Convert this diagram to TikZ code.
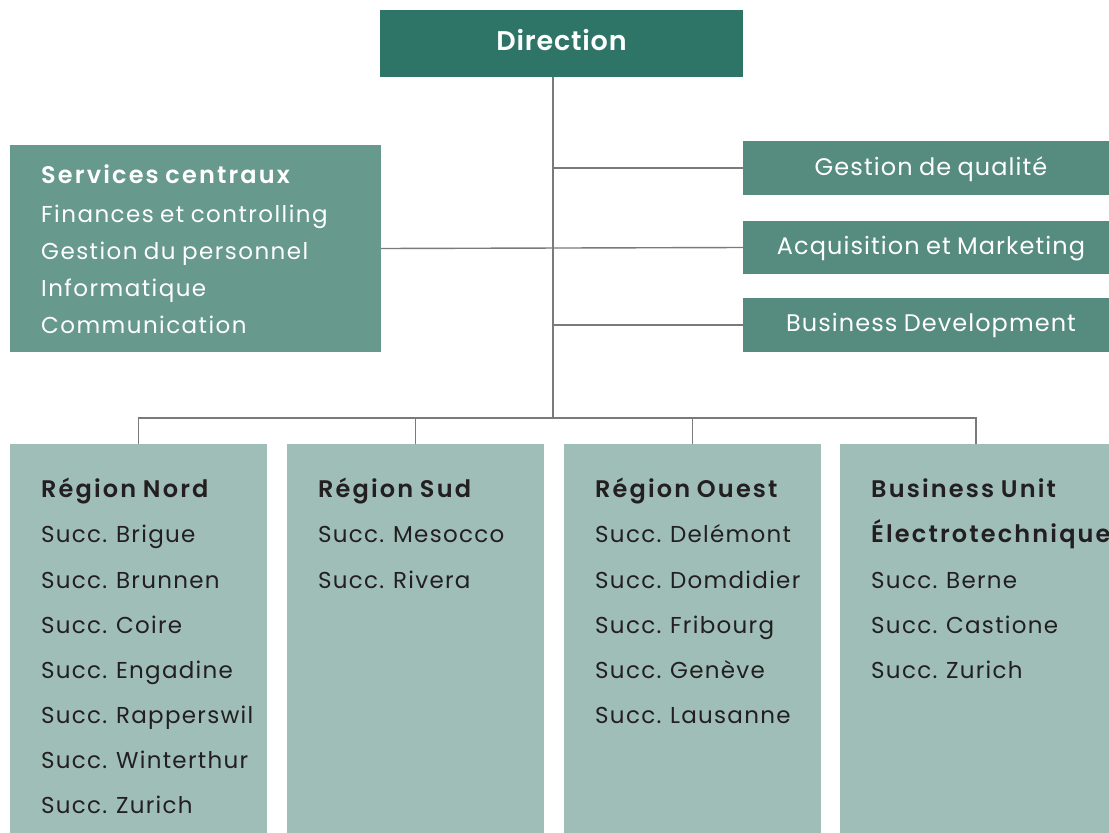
\documentclass[tikz,border=0pt]{standalone}
\usepackage{fontspec}
\setmainfont{Poppins}[LetterSpace=5.6,WordSpace=0.85,BoldFont={Poppins SemiBold},BoldFeatures={LetterSpace=9}]
\newfontfamily\ctrfont{Poppins}[LetterSpace=4.5,WordSpace=0.85]
\newfontfamily\svcfont{Poppins}[LetterSpace=6.3,WordSpace=0.85]
\newfontfamily\dirfont{Poppins SemiBold}[LetterSpace=3]
\definecolor{cdir}{HTML}{2E7568}
\definecolor{csvc}{HTML}{67998C}
\definecolor{cright}{HTML}{568B7F}
\definecolor{cbot}{HTML}{9FBEB7}
\definecolor{cline}{HTML}{7A7A7A}
\definecolor{ctext}{HTML}{231F20}
\begin{document}
\begin{tikzpicture}[x=1pt,y=-1pt,
  box/.style={draw=none,inner sep=0pt,outer sep=0pt},
  conn/.style={draw=cline,line width=1.4pt},
  wtxt/.style={inner sep=0pt,anchor=base west,text=white,font=\svcfont\fontsize{23}{23}\selectfont},
  wbtxt/.style={inner sep=0pt,anchor=base west,text=white,font=\fontsize{24}{24}\selectfont\bfseries},
  dtxt/.style={inner sep=0pt,anchor=base west,text=ctext,font=\fontsize{23}{23}\selectfont},
  btxt/.style={inner sep=0pt,anchor=base west,text=ctext,font=\fontsize{24}{24}\selectfont\bfseries},
  ctxt/.style={inner sep=0pt,anchor=base,text=white,font=\ctrfont\fontsize{24}{24}\selectfont}]
\clip (0,0) rectangle (1109,833);
\fill[white] (0,0) rectangle (1109,833);
% boxes
\path[fill=cdir] (380,10) rectangle (743,77);
\node[box,minimum width=363pt,minimum height=67pt] (dir) at (561.5,43.5) {};
\path[fill=csvc] (10,145) rectangle (381,352);
\node[box,minimum width=371pt,minimum height=207pt] (svc) at (195.5,248.5) {};
\path[fill=cright] (743,141) rectangle (1117,195);
\node[box,minimum width=374pt,minimum height=54pt] (gq) at (930,168) {};
\path[fill=cright] (743,221) rectangle (1117,274);
\node[box,minimum width=374pt,minimum height=53pt] (acq) at (930,247.5) {};
\path[fill=cright] (743,298) rectangle (1117,352);
\node[box,minimum width=374pt,minimum height=54pt] (bd) at (930,325) {};
\path[fill=cbot] (10,444) rectangle (267,840);
\node[box,minimum width=257pt,minimum height=396pt] (nord) at (138.5,642) {};
\path[fill=cbot] (287,444) rectangle (544,840);
\node[box,minimum width=257pt,minimum height=396pt] (sud) at (415.5,642) {};
\path[fill=cbot] (564,444) rectangle (821,840);
\node[box,minimum width=257pt,minimum height=396pt] (ouest) at (692.5,642) {};
\path[fill=cbot] (840,444) rectangle (1112,840);
\node[box,minimum width=272pt,minimum height=396pt] (bu) at (976,642) {};
% connectors
\coordinate (hub) at (553,418);
\draw[conn] (dir.south -| hub) -- (hub);
\draw[conn] (svc.east) -- (acq.west);
\draw[conn] (gq.west -| hub) -- (gq.west);
\draw[conn] (bd.west -| hub) -- (bd.west);
\draw[conn] (nord.north) -- (nord.north |- hub) -- (bu.north |- hub) -- (bu.north);
\draw[conn] (sud.north) -- (sud.north |- hub);
\draw[conn] (ouest.north) -- (ouest.north |- hub);
% texts
\node[inner sep=0pt,anchor=base,text=white,font=\dirfont\fontsize{27}{27}\selectfont] (tdir) at (561.5,50) {Direction};
\node[wbtxt] (s0) at (41,183.3) {Services centraux};
\node[wtxt] (s1) at (41,222) {Finances et controlling};
\node[wtxt] (s2) at (41,259) {Gestion du personnel};
\node[wtxt] (s3) at (41,296) {Informatique};
\node[wtxt] (s4) at (41,333) {Communication};
\node[ctxt] (tgq) at (931,175) {Gestion de qualité};
\node[ctxt] (tacq) at (931,254) {Acquisition et Marketing};
\node[ctxt] (tbd) at (931,331) {Business Development};
% Nord
\node[btxt] (n0) at (41,497.5) {Région Nord};
\node[dtxt] (n1) at (41,542.7) {Succ. Brigue};
\node[dtxt] (n2) at (41,588) {Succ. Brunnen};
\node[dtxt] (n3) at (41,633) {Succ. Coire};
\node[dtxt] (n4) at (41,678) {Succ. Engadine};
\node[dtxt] (n5) at (41,723) {Succ. Rapperswil};
\node[dtxt] (n6) at (41,768) {Succ. Winterthur};
\node[dtxt] (n7) at (41,813) {Succ. Zurich};
% Sud
\node[btxt] (u0) at (318,497.5) {Région Sud};
\node[dtxt] (u1) at (318,542.7) {Succ. Mesocco};
\node[dtxt] (u2) at (318,588) {Succ. Rivera};
% Ouest
\node[btxt] (o0) at (595,497.5) {Région Ouest};
\node[dtxt] (o1) at (595,542.7) {Succ. Delémont};
\node[dtxt] (o2) at (595,588) {Succ. Domdidier};
\node[dtxt] (o3) at (595,633) {Succ. Fribourg};
\node[dtxt] (o4) at (595,678) {Succ. Genève};
\node[dtxt] (o5) at (595,723) {Succ. Lausanne};
% BU
\node[btxt] (b0) at (871,497.5) {Business Unit};
\node[btxt] (b1) at (871,542.7) {Électrotechnique};
\node[dtxt] (b2) at (871,588) {Succ. Berne};
\node[dtxt] (b3) at (871,633) {Succ. Castione};
\node[dtxt] (b4) at (871,678) {Succ. Zurich};
\end{tikzpicture}
\end{document}
